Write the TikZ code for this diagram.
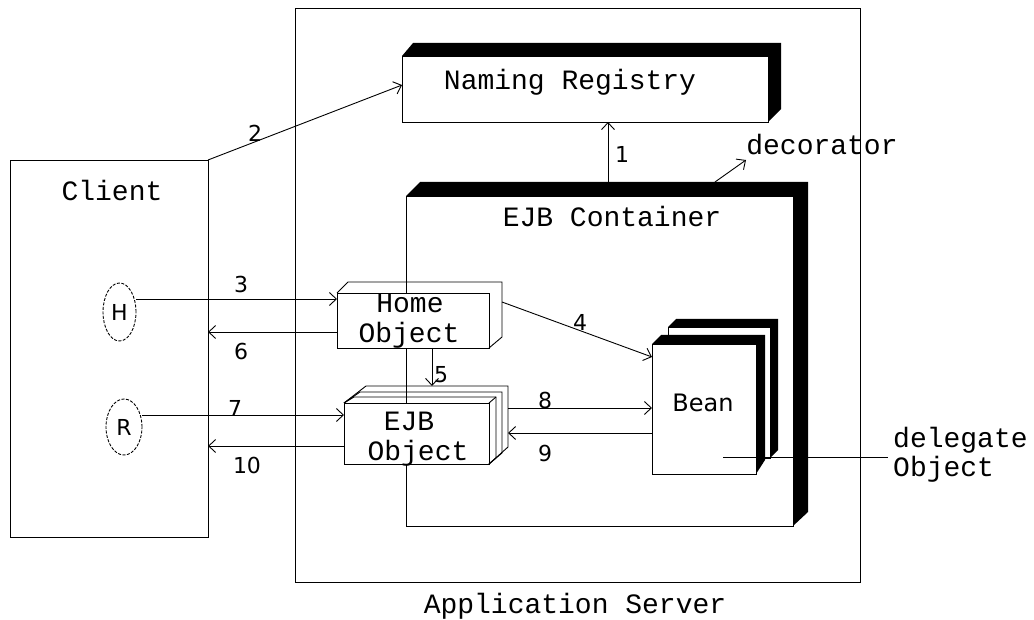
\documentclass[tikz,border=0pt]{standalone}
\usepackage{fontspec}
\newfontfamily\monof{Liberation Mono}
\newfontfamily\sansf{DejaVu Sans}
\usetikzlibrary{calc,arrows.meta,shapes.geometric}
\tikzset{
  ln/.style={line width=0.9pt},
  arr/.style={line width=0.9pt,-{Straight Barb[length=7pt,width=13pt,line width=0.9pt]}},
  face/.style={draw,line width=0.9pt,fill=white,rectangle,inner sep=0pt,outer sep=0pt},
  mono/.style={font=\monof\fontsize{28}{30}\selectfont,inner sep=0pt,anchor=base},
  num/.style={font=\sansf\fontsize{22}{24}\selectfont,inner sep=0pt,anchor=base},
  oval/.style={draw,ellipse,line width=0.9pt,dash pattern=on 3pt off 1.5pt,inner sep=0pt,outer sep=0pt,font=\sansf\fontsize{22}{24}\selectfont},
}
\begin{document}
\begin{tikzpicture}[x=1pt,y=-1pt]
\useasboundingbox[fill=white] (0,0) rectangle (1034,620);

% outer boxes
\node[face,minimum width=565pt,minimum height=574pt] (app) at (577.5,295) {};
\node[face,minimum width=198pt,minimum height=377pt] (client) at (109,348.5) {};
\node[mono] (clientlbl) at (112,201) {Client};
\node[mono] (applbl) at (575,613) {Application Server};

% naming registry
\node[face,minimum width=366pt,minimum height=66pt] (reg) at (585,89) {};
\fill (reg.north west) -- ++(11,-13) -- ($(reg.north east)+(13,-13)$) -- ($(reg.south east)+(13,-13)$) -- (reg.south east) -- (reg.north east) -- cycle;
\node[mono] (reglbl) at (570,90) {Naming Registry};

% EJB container
\node[face,minimum width=387pt,minimum height=330pt] (cont) at (599.5,361) {};
\fill (cont.north west) -- ++(14,-14) -- ($(cont.north east)+(15,-14)$) -- ($(cont.south east)+(15,-14)$) -- (cont.south east) -- (cont.north east) -- cycle;
\node[mono] (contlbl) at (612,227) {EJB Container};

% Home object
\node[face,minimum width=152pt,minimum height=55pt] (home) at (413,320.5) {};
\draw[ln] (home.north west) -- ++(11,-11) -- ($(home.north east)+(13,-11)$) -- ($(home.south east)+(13,-11)$) -- (home.south east);
\node[mono] (homel1) at (410,313) {Home};
\node[mono] (homel2) at (409,343) {Object};

% EJB object (stacked)
\node[face,minimum width=145pt,minimum height=61pt] (ejb) at (416.5,433.5) {};
\foreach \dx/\dy in {7/6,13/11,19/17}{
  \draw[ln] (ejb.north west) -- ++(\dx+3,-\dy) -- ($(ejb.north east)+(\dx,-\dy)$) -- ($(ejb.south east)+(\dx,-\dy)$) -- (ejb.south east);
}
\draw[ln] (ejb.north east) -- ++(7,-6);
\node[mono] (ejbl1) at (409,430) {EJB};
\node[mono] (ejbl2) at (418,460) {Object};

% Bean (two boxes)
\node[face,minimum width=102pt,minimum height=131pt] (beanb) at (719,392.5) {};
\fill (beanb.north west) -- ++(8,-8) -- ($(beanb.north east)+(8,-8)$) -- ($(beanb.south east)+(8,-8)$) -- (beanb.south east) -- (beanb.north east) -- cycle;
\node[face,minimum width=104pt,minimum height=130pt] (bean) at (704,409) {};
\fill (bean.north west) -- ++(9,-9) -- ($(bean.north east)+(9,-9)$) -- ($(bean.south east)+(9,-14)$) -- (bean.south east) -- (bean.north east) -- cycle;
\node[font=\sansf\fontsize{24}{26}\selectfont,inner sep=0pt,anchor=base] (beanlbl) at (703,411) {Bean};

% H and R
\node[oval,minimum width=33pt,minimum height=58pt] (H) at (119.5,312) {H};
\node[oval,minimum width=36pt,minimum height=56pt] (R) at (124,427) {R};

% helper coordinates
\coordinate (y3) at (0,299);
\coordinate (y6) at (0,332);
\coordinate (y7) at (0,415);
\coordinate (y10) at (0,446);
\coordinate (y8) at (0,408);
\coordinate (y9) at (0,433);
\coordinate (x1) at (608,0);
\coordinate (x5) at (432,0);
\coordinate (ejbr) at (508,0);
\coordinate (ejbtop) at (0,386);
\coordinate (a4s) at (502,302);
\coordinate (a4e) at ($(bean.north west)!0.1!(bean.south west)$);
\coordinate (regin) at ($(reg.north west)!0.44!(reg.south west)$);
\coordinate (dec1) at (715,182);
\coordinate (dec2) at (746,160);
\coordinate (dlg1) at (723,457);
\coordinate (dlg2) at (888,457);

% connectors
\draw[arr] (x1 |- cont.north) ++(0,-14) coordinate (c1) (c1) -- (c1 |- reg.south);
\draw[arr] (client.north east) -- (regin);
\draw[arr] (H.east |- y3) -- (home.west |- y3);
\draw[arr] (home.west |- y6) -- (client.east |- y6);
\draw[arr] (a4s) -- (a4e);
\draw[arr] (x5 |- home.south) -- (x5 |- ejbtop);
\draw[arr] (R.east |- y7) -- (ejb.west |- y7);
\draw[arr] (ejb.west |- y10) -- (client.east |- y10);
\draw[arr] (ejbr |- y8) -- (bean.west |- y8);
\draw[arr] (bean.west |- y9) -- (ejbr |- y9);
\draw[arr] (dec1) -- (dec2);
\draw[ln] (dlg1) -- (dlg2);

% connector labels
\node[num] (n1) at (622,163) {1};
\node[num] (n2) at (255,142) {2};
\node[num] (n3) at (241,293) {3};
\node[num] (n6) at (241,360) {6};
\node[num] (n4) at (580,331) {4};
\node[num] (n5) at (441,382) {5};
\node[num] (n7) at (235,417) {7};
\node[num] (n10) at (247,473) {10};
\node[num] (n8) at (545,409) {8};
\node[num] (n9) at (545,461) {9};

\node[mono] (declbl) at (822,155) {decorator};
\node[mono,anchor=base west] (dlgl1) at (893,447) {delegate};
\node[mono,anchor=base west] (dlgl2) at (893,476) {Object};
\end{tikzpicture}
\end{document}
